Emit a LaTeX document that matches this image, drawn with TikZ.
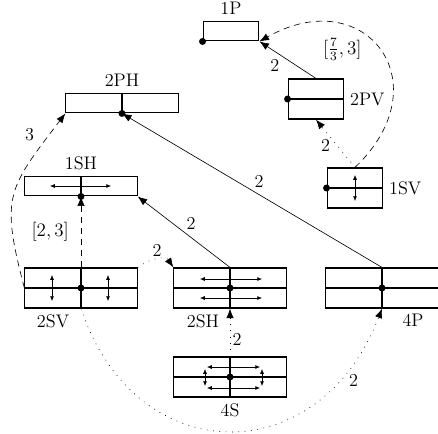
\documentclass[tikz,border=0pt]{standalone}
\usetikzlibrary{arrows.meta}
\tikzset{
  sm/.tip={Latex[length=3pt,width=2.6pt]},
  box/.style={draw,line width=0.7pt,inner sep=0pt,minimum width=2.49cm,minimum height=0.89cm},
  sbox/.style={box,minimum width=1.24cm,minimum height=0.44cm},
  wbox/.style={box,minimum height=0.44cm},
  mid/.style={line width=0.9pt},
  two/.style={thin,sm-sm},
  dsh/.style={dash pattern=on 4pt off 3pt},
  dtt/.style={dash pattern=on 0.5pt off 3.5pt},
  lbl/.style={inner sep=1.5pt},
}
\begin{document}
\begin{tikzpicture}[>={Latex[length=6pt,width=4.6pt]},x=0.0222cm,y=0.0222cm,font=\fontsize{11.5}{13}\selectfont]
\useasboundingbox (0,0) rectangle (438,433);
% positions
\node[sbox,label=above:1P] (P1) at (231,402) {};
\node[box,minimum width=1.24cm,label=right:2PV] (PV2) at (316,334) {};
\node[box,minimum width=1.24cm,label=right:1SV] (SV1) at (355,245) {};
\node[wbox,label=above:2PH] (PH2) at (122,330) {};
\node[wbox,label=above:1SH] (SH1) at (81,247) {};
\node[box,label={[xshift=-0.62cm]below:2SV}] (SV2) at (81,145) {};
\node[box,label={[xshift=-0.6cm]below:2SH}] (SH2) at (230,145) {};
\node[box,label={[xshift=0.69cm]below:4P}] (P4) at (382,145) {};
\node[box,label=below:4S] (S4) at (230,56) {};
% cuts
\foreach \n in {PV2,SV1,SV2,SH2,P4,S4} \draw[mid] (\n.west) -- (\n.east);
\foreach \n in {PH2,SH1,SV2,SH2,P4,S4} \draw[mid] (\n.north) -- (\n.south);
% moves
\draw[two] (355,232) -- (355,258);
\draw[two] (50,247) -- (111,247);
\draw[two] (52,132) -- (52,158);
\draw[two] (108,132) -- (108,158);
\draw[two] (200,154) -- (262,154);
\draw[two] (200,135) -- (262,135);
\draw[two] (207,66) -- (260,66);
\draw[two] (207,45) -- (260,45);
\draw[two] (205,64) -- (205,47);
\draw[two] (262,64) -- (262,47);
\foreach \a in {P1.south west,PV2.west,SV1.west,PH2.south,SH1.south,SV2.center,SH2.center,P4.center,S4.center}
  \fill (\a) circle (2.2pt);
% arrows
\draw[->] (PV2.north) -- node[lbl,below left,pos=0.6] {2} (P1.south east);
\draw[->,dtt] (SV1.north) -- node[lbl,left=3pt,pos=0.45] {2} (PV2.south);
\draw[->,dsh] (SV1.north) .. controls +(88,84) and +(106,60) .. node[lbl,pos=0.6,below left] {$[\frac{7}{3},3]$} (P1.south east);
\draw[->] (P4.north) -- node[lbl,pos=0.5,above right] {2} (PH2.south);
\draw[->] (SH2.north) -- node[lbl,pos=0.5,above right] {2} (SH1.south east);
\draw[->,dsh] (SV2.north) -- node[lbl,left=6pt] {$[2,3]$} (SH1.south);
\draw[->,dsh] (SV2.west) .. controls +(-24,92) and +(-58,-76) .. node[lbl,pos=0.9,left=8pt] {3} (PH2.south west);
\draw[->,dtt] (SV2.north east) .. controls +(12,9) and +(-8,12) .. node[lbl,above] {2} (SH2.north west);
\draw[->,dtt] (S4.north) -- node[lbl,right,pos=0.35] {2} (SH2.south);
\draw[->,dtt] (SV2.south) .. controls +(54,-162) and +(-63,-164) .. node[lbl,pos=0.85,below right] {2} (P4.south);
\end{tikzpicture}
\end{document}
